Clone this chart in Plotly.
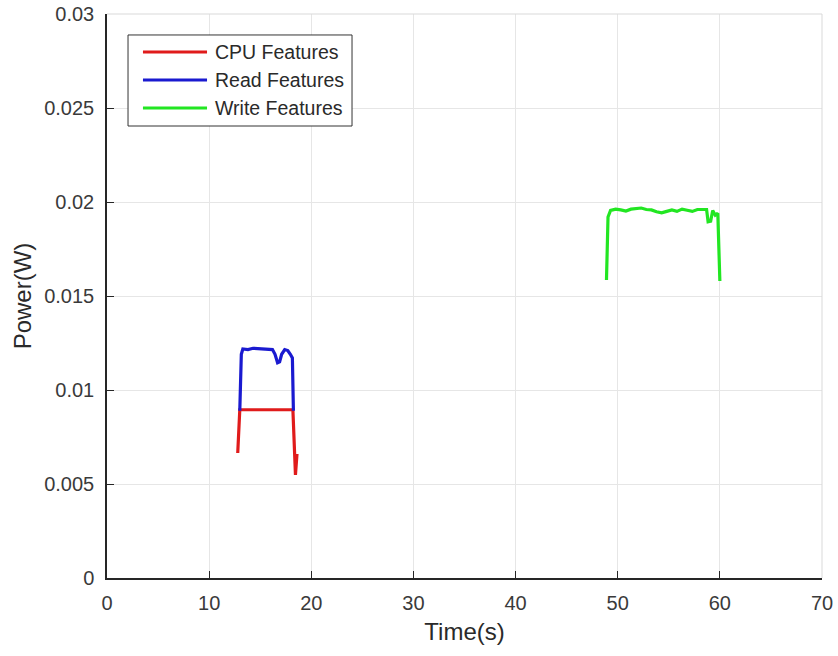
import plotly.graph_objects as go

# Power traces captured for each feature workload
cpu_time = [12.8, 13.0, 13.5, 14.5, 15.5, 16.5, 17.5, 18.2, 18.45, 18.6]
cpu_power = [0.00665, 0.00895, 0.00895, 0.00895, 0.00895, 0.00895, 0.00895, 0.00895, 0.00548, 0.0066]

read_time = [13.0, 13.15, 13.3, 13.8, 14.3, 14.8, 15.3, 15.8, 16.2, 16.45, 16.7, 16.9, 17.1, 17.4, 17.7, 17.95, 18.15, 18.25]
read_power = [0.0089, 0.0119, 0.01218, 0.01215, 0.01222, 0.0122, 0.01222, 0.01218, 0.01215, 0.0119, 0.01145, 0.0115, 0.0119, 0.01215, 0.0121, 0.0119, 0.0117, 0.0089]

write_time = [48.9, 49.05, 49.3, 49.8, 50.3, 50.8, 51.3, 51.8, 52.3, 52.8, 53.3, 53.8, 54.3,
              54.8, 55.3, 55.8, 56.3, 56.8, 57.3, 57.8, 58.3, 58.7, 58.85, 59.1, 59.3, 59.55, 59.8, 60.0]
write_power = [0.01585, 0.0192, 0.01955, 0.01962, 0.01958, 0.01952, 0.01962, 0.01966, 0.01968, 0.0196,
               0.01958, 0.01948, 0.01942, 0.0195, 0.01958, 0.0195, 0.01962, 0.01956, 0.0195, 0.0196,
               0.01962, 0.0196, 0.01895, 0.01898, 0.01955, 0.0193, 0.0194, 0.0158]

series_names = ["CPU Features", "Read Features", "Write Features"]
series_colors = ["#e01b1b", "#1a1ad0", "#22e622"]

x_ticks = [0, 10, 20, 30, 40, 50, 60, 70]
y_ticks = [0, 0.005, 0.01, 0.015, 0.02, 0.025, 0.03]
y_tick_text = ["0", "0.005", "0.01", "0.015", "0.02", "0.025", "0.03"]

font_family = "Liberation Sans, Arial, Helvetica, sans-serif"
axis_color = "#262626"
text_color = "#3a3a3a"
grid_color = "#e6e6e6"

fig = go.Figure()
for xs, ys, name, color in zip(
    [cpu_time, read_time, write_time],
    [cpu_power, read_power, write_power],
    series_names, series_colors,
):
    fig.add_trace(go.Scatter(
        x=xs, y=ys, mode="lines", name=name,
        line=dict(color=color, width=3.2),
        showlegend=False,
    ))

# Light frame along the top and right edges of the axes box
fig.add_shape(type="line", xref="paper", yref="paper", x0=0, x1=1, y0=1, y1=1,
              line=dict(color="#d9d9d9", width=1))
fig.add_shape(type="line", xref="paper", yref="paper", x0=1, x1=1, y0=0, y1=1,
              line=dict(color="#d9d9d9", width=1))

# Legend box with line samples and labels
leg_x0, leg_x1 = 0.0294, 0.3427
leg_y0, leg_y1 = 0.8014, 0.9628
row_y = [0.9326, 0.8830, 0.8333]
fig.add_shape(type="rect", xref="paper", yref="paper",
              x0=leg_x0, x1=leg_x1, y0=leg_y0, y1=leg_y1,
              line=dict(color="#333333", width=1), fillcolor="white", layer="above")
for yy, name, color in zip(row_y, series_names, series_colors):
    fig.add_shape(type="line", xref="paper", yref="paper",
                  x0=0.0503, x1=0.1399, y0=yy, y1=yy,
                  line=dict(color=color, width=3), layer="above")
    fig.add_annotation(xref="paper", yref="paper", x=0.1483, y=yy,
                       text=name, showarrow=False, xanchor="left", yanchor="middle",
                       font=dict(family=font_family, size=19.5, color="#2a2a2a"))

fig.update_xaxes(
    range=[0, 70], tickvals=x_ticks, ticks="inside", ticklen=7, tickcolor=axis_color,
    showline=True, linecolor=axis_color, linewidth=1.5,
    showgrid=True, gridcolor=grid_color, gridwidth=1, zeroline=False,
    tickfont=dict(family=font_family, size=20, color=text_color),
    ticklabelstandoff=6, automargin=False,
    title=dict(text="Time(s)", font=dict(family=font_family, size=24, color="#2a2a2a"), standoff=10),
)
fig.update_yaxes(
    range=[0, 0.03], tickvals=y_ticks, ticktext=y_tick_text, ticks="inside", ticklen=7,
    tickcolor=axis_color, showline=True, linecolor=axis_color, linewidth=1.5,
    showgrid=True, gridcolor=grid_color, gridwidth=1, zeroline=False,
    tickfont=dict(family=font_family, size=20, color=text_color),
    ticklabelstandoff=7, automargin=False,
    title=dict(text="Power(W)", font=dict(family=font_family, size=24, color="#2a2a2a"), standoff=6),
)

fig.update_layout(
    width=838, height=656,
    margin=dict(l=107, r=16, t=14, b=78),
    paper_bgcolor="white", plot_bgcolor="white",
    font=dict(family=font_family),
)

fig.write_html("out.html")
